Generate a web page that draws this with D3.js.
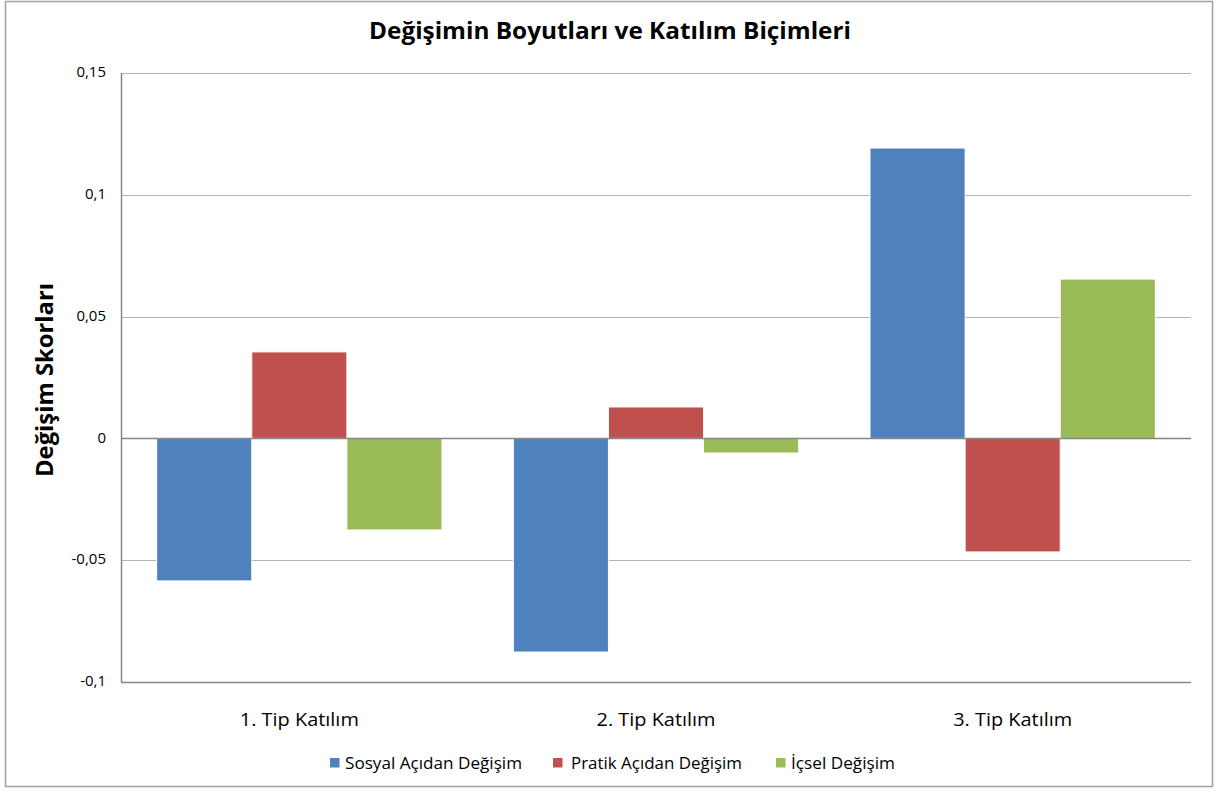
<!DOCTYPE html>
<html><head><meta charset="utf-8">
<script src="https://cdn.jsdelivr.net/npm/d3@7"></script>
<style>body{margin:0;background:#fff}svg{display:block}</style>
</head><body>
<script>
const categories = ["1. Tip Katılım", "2. Tip Katılım", "3. Tip Katılım"];
const seriesNames = ["Sosyal Açıdan Değişim", "Pratik Açıdan Değişim", "İçsel Değişim"];
const sosyal = [-0.0585, -0.0877, 0.1192];
const pratik = [0.0355, 0.0129, -0.0466];
const icsel = [-0.0376, -0.0060, 0.0654];
const colors = ["#4f81bd", "#c0504d", "#9bbb59"];
const yTicks = [-0.1, -0.05, 0, 0.05, 0.1, 0.15];
const yTickLabels = ["-0,1", "-0,05", "0", "0,05", "0,1", "0,15"];
const title = "Değişimin Boyutları ve Katılım Biçimleri";
const yTitle = "Değişim Skorları";

const series = [sosyal, pratik, icsel];
const W = 1222, H = 794;
const font = "'Open Sans', Carlito, Calibri, sans-serif";
const svg = d3.select("body").append("svg").attr("width", W).attr("height", H);
svg.append("rect").attr("x", 5.5).attr("y", 1.5).attr("width", 1207).attr("height", 785)
  .attr("fill", "#fff").attr("stroke", "#a0a0a0").attr("stroke-width", 1.5);

const pLeft = 121, pRight = 1191, pTop = 73, pBottom = 682;
const y = d3.scaleLinear().domain([-0.1, 0.15]).range([pBottom, pTop]);
const groupBand = d3.scaleBand().domain(categories).range([pLeft, pRight]);
const x1 = d3.scaleBand().domain(d3.range(3)).range([0, groupBand.bandwidth()]).paddingOuter(0.375).paddingInner(0);

// gridlines
svg.append("g").selectAll("line").data(yTicks.filter(v => v !== 0 && v !== -0.1)).join("line")
  .attr("x1", pLeft).attr("x2", pRight).attr("y1", d => Math.round(y(d)) + 0.5).attr("y2", d => Math.round(y(d)) + 0.5)
  .attr("stroke", "#b3b3b3").attr("stroke-width", 1.2);

// bars
series.forEach((vals, si) => {
  svg.append("g").selectAll("rect").data(vals).join("rect")
    .attr("x", (d, i) => groupBand(categories[i]) + x1(si))
    .attr("width", x1.bandwidth())
    .attr("y", d => y(Math.max(0, d)))
    .attr("height", d => Math.abs(y(d) - y(0)))
    .attr("fill", colors[si]).attr("stroke", "#fff").attr("stroke-width", 1);
});

// axis lines
svg.append("line").attr("x1", pLeft).attr("x2", pRight).attr("y1", Math.round(y(0)) + 0.5).attr("y2", Math.round(y(0)) + 0.5)
  .attr("stroke", "#868686").attr("stroke-width", 1.5);
svg.append("line").attr("x1", pLeft).attr("x2", pRight).attr("y1", Math.round(y(-0.1)) + 0.5).attr("y2", Math.round(y(-0.1)) + 0.5)
  .attr("stroke", "#868686").attr("stroke-width", 1.5);
svg.append("line").attr("x1", pLeft + 0.5).attr("x2", pLeft + 0.5).attr("y1", pTop).attr("y2", pBottom)
  .attr("stroke", "#868686").attr("stroke-width", 1.5);

// y tick labels
const yAxis = d3.axisLeft(y).tickValues(yTicks).tickFormat((d, i) => yTickLabels[i]).tickSize(0).tickPadding(15);
const ya = svg.append("g").attr("transform", `translate(${pLeft},0)`).call(yAxis);
ya.select(".domain").remove();
ya.selectAll("text").attr("font-family", font).attr("font-size", 15).attr("fill", "#000")
  .attr("dy", "0.25em");

// x labels
const xAxis = d3.axisBottom(groupBand).tickSize(0).tickPadding(0);
const xa = svg.append("g").attr("transform", `translate(0,${pBottom})`).call(xAxis);
xa.select(".domain").remove();
xa.selectAll("text").attr("font-family", font).attr("font-size", 18.5).attr("fill", "#000")
  .attr("y", 44).attr("dy", null)
  .attr("textLength", 119).attr("lengthAdjust", "spacingAndGlyphs");

// title
svg.append("text").attr("x", 610).attr("y", 39).attr("text-anchor", "middle")
  .attr("font-family", font).attr("font-size", 22.5).attr("font-weight", "bold")
  .attr("textLength", 482).attr("lengthAdjust", "spacingAndGlyphs").text(title);
svg.append("text").attr("transform", "translate(53,380) rotate(-90)").attr("text-anchor", "middle")
  .attr("font-family", font).attr("font-size", 23.5).attr("font-weight", "bold")
  .attr("textLength", 194).attr("lengthAdjust", "spacingAndGlyphs").text(yTitle);

// legend
const legendX = [330, 553, 776];
const legendTextX = [345, 571, 791];
const legendW = [177, 171, 104];
const lg = svg.append("g");
seriesNames.forEach((n, i) => {
  lg.append("rect").attr("x", legendX[i]).attr("y", 758).attr("width", 9.5).attr("height", 9.5).attr("fill", colors[i]);
  lg.append("text").attr("x", legendTextX[i]).attr("y", 769).attr("font-family", font).attr("font-size", 15.5)
    .attr("textLength", legendW[i]).attr("lengthAdjust", "spacingAndGlyphs").text(n);
});
</script>
</body></html>
